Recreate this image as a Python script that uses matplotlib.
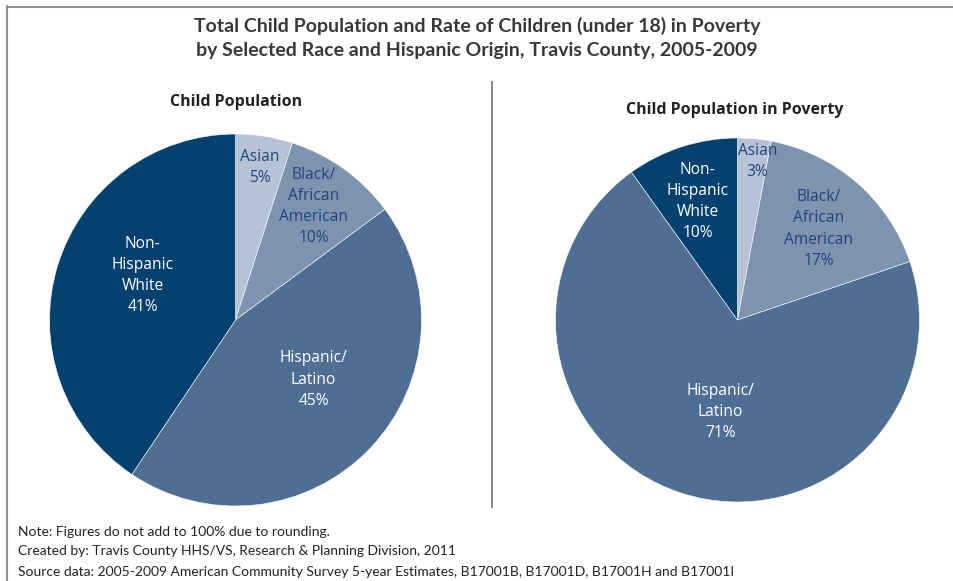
import matplotlib
matplotlib.use("Agg")
import matplotlib.pyplot as plt
from matplotlib.lines import Line2D

# ---- data ----
categories = ["Asian", "Black/\nAfrican\nAmerican", "Hispanic/\nLatino", "Non-\nHispanic\nWhite"]
child_pop = [5, 10, 45, 41]
child_poverty = [3, 17, 71, 10]

title = ("Total Child Population and Rate of Children (under 18) in Poverty\n"
         "by Selected Race and Hispanic Origin, Travis County, 2005-2009")
subtitles = ["Child Population", "Child Population in Poverty"]
notes = ["Note: Figures do not add to 100% due to rounding.",
         "Created by: Travis County HHS/VS, Research & Planning Division, 2011",
         "Source data: 2005-2009 American Community Survey 5-year Estimates, B17001B, B17001D, B17001H and B17001I"]

# ---- style ----
colors = ["#b6c3d6", "#7e93b0", "#4e6f93", "#05416f"]
text_colors = ["#23457a", "#23457a", "white", "white"]
W, H = 954, 581
COND = ["Lato", "DejaVu Sans"]
REG = ["Open Sans", "DejaVu Sans"]

fig = plt.figure(figsize=(W / 100, H / 100), dpi=100)

def px_axes(cx, cy, r):
    return fig.add_axes([(cx - r) / W, (H - cy - r) / H, 2 * r / W, 2 * r / H])

# label offsets in units of radius
label_pos = [
    [(0.13, 0.82), (0.42, 0.61), (0.42, -0.32), (-0.50, 0.24)],
    [(0.11, 0.87), (0.445, 0.50), (-0.093, -0.505), (-0.22, 0.65)],
]
pies = [(235.5, 320, 186), (737.5, 320, 182)]

for k, (vals, (cx, cy, r)) in enumerate(zip([child_pop, child_poverty], pies)):
    ax = px_axes(cx, cy, r)
    ax.pie(vals, colors=colors, startangle=90, counterclock=False, radius=1,
           wedgeprops=dict(edgecolor="white", linewidth=0.4))
    ax.set_xlim(-1, 1)
    ax.set_ylim(-1, 1)
    ax.set_aspect("auto")
    ax.axis("off")
    for i, (cat, v) in enumerate(zip(categories, vals)):
        x, y = label_pos[k][i]
        ax.text(x, y, f"{cat}\n{v}%", ha="center", va="center",
                color=text_colors[i], fontsize=11.2, family=REG, linespacing=1.42)

# title
fig.text(0.5, 1 - 38 / H, title, ha="center", va="center", fontsize=14,
         fontweight="bold", family=COND, color="#383838", linespacing=1.55)
# subtitles
fig.text(236 / W, 1 - 102 / H, subtitles[0], ha="center", va="center", fontsize=11.5,
         fontweight="bold", family=REG, color="#222222")
fig.text(735 / W, 1 - 110 / H, subtitles[1], ha="center", va="center", fontsize=11.5,
         fontweight="bold", family=REG, color="#222222")
# notes
for j, (n, yy) in enumerate(zip(notes, [532, 551, 572])):
    fig.text(18 / W, 1 - yy / H, n, ha="left", va="center", fontsize=10,
             family=COND, color="#222222")

# border and divider
fig.add_artist(Line2D([7 / W, 1], [1 - 6.5 / H, 1 - 6.5 / H], color="#929296", lw=1.5))
fig.add_artist(Line2D([7.5 / W, 7.5 / W], [0, 1 - 6 / H], color="#929296", lw=1.5))
fig.add_artist(Line2D([492 / W, 492 / W], [1 - 82 / H, 1 - 507 / H], color="#8a8a8a", lw=1.5))

fig.savefig("out.png", dpi=100)
